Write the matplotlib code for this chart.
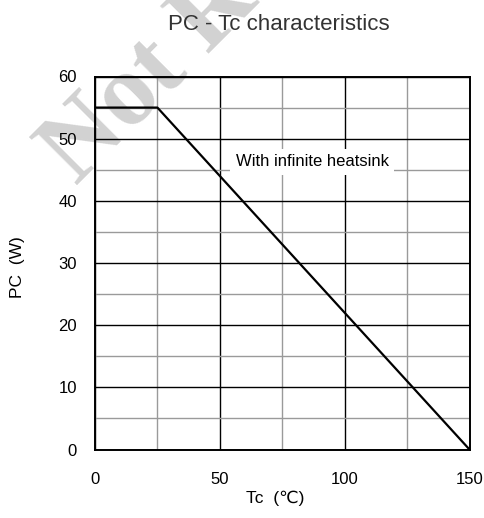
import numpy as np
import matplotlib.pyplot as plt

plt.rcParams['font.family'] = ['Liberation Sans', 'DejaVu Sans']

# PC - Tc derating curve
tc = [0, 25, 150]          # case temperature [degC]
pc = [55, 55, 0]           # power dissipation [W]

x_major = [0, 50, 100, 150]
y_major = [0, 10, 20, 30, 40, 50, 60]

fig = plt.figure(figsize=(4.84, 5.18), dpi=100)
ax = fig.add_axes([95 / 484, 1 - 449.5 / 518, 374.5 / 484, 373 / 518])
ax.patch.set_visible(False)

# watermark behind everything (cut off by the top edge, as in the original)
fig.text(76 / 484, 1 - 186 / 518, "Not Re", fontsize=74, fontweight='bold',
         family='Liberation Serif', color='#d2d2d2', rotation=45,
         rotation_mode='anchor', ha='left', va='baseline', zorder=-5)

ax.plot(tc, pc, color='black', lw=1.6, zorder=4)

ax.set_xlim(0, 150)
ax.set_ylim(0, 60)
ax.set_xticks(x_major)
ax.set_yticks(y_major)
ax.set_xticks(np.arange(0, 151, 25), minor=True)
ax.set_yticks(np.arange(0, 61, 5), minor=True)
ax.grid(which='minor', color='#9a9a9a', lw=1.0, zorder=1)
ax.grid(which='major', color='black', lw=1.0, zorder=2)
ax.set_axisbelow(True)
ax.tick_params(which='both', length=0)
ax.tick_params(axis='x', pad=16, labelsize=12)
ax.tick_params(axis='y', pad=13, labelsize=12)
for s in ax.spines.values():
    s.set_linewidth(1.4)
    s.set_color('black')

ax.text(87, 46.3, "With infinite heatsink", fontsize=12, ha='center', va='center',
        bbox=dict(facecolor='white', edgecolor='none', pad=4), zorder=5)

ax.set_xlabel("Tc  (\u2103)", fontsize=12.5)
ax.xaxis.set_label_coords(0.48, -0.13)
ax.xaxis.label.set_va('center')
ax.set_ylabel("PC  (W)", fontsize=12.5)
ax.yaxis.set_label_coords(-0.208, 0.49)
ax.yaxis.label.set_va('center')

fig.text(278.5 / 484, 1 - 24 / 518, "PC - Tc characteristics", fontsize=16,
         color='#333333', ha='center', va='center')

fig.savefig("out.png", dpi=100)
